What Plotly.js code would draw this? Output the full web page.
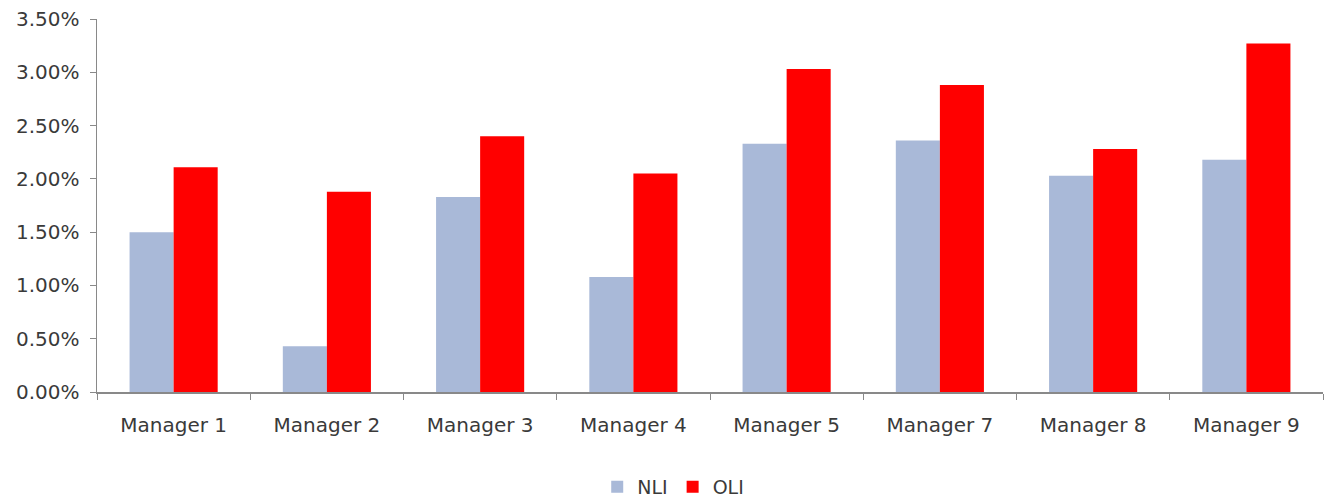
<!DOCTYPE html>
<html>
<head>
<meta charset="utf-8">
<script src="https://cdn.plot.ly/plotly-3.0.1.min.js"></script>
<style>html,body{margin:0;padding:0;background:#fff;}#chart{width:1331px;height:501px;}</style>
</head>
<body>
<div id="chart"></div>
<script>
const categories = ["Manager 1","Manager 2","Manager 3","Manager 4","Manager 5","Manager 7","Manager 8","Manager 9"];
const nliValues = [0.0150,0.0043,0.0183,0.0108,0.0233,0.0236,0.0203,0.0218];
const oliValues = [0.0211,0.0188,0.0240,0.0205,0.0303,0.0288,0.0228,0.0327];
const yTickVals = [0,0.005,0.01,0.015,0.02,0.025,0.03,0.035];

const fam = "DejaVu Sans, sans-serif";
const data = [
  {type:"bar", name:"NLI", x:categories, y:nliValues, marker:{color:"#A9B9D8"}},
  {type:"bar", name:"OLI", x:categories, y:oliValues, marker:{color:"#FF0000"}}
];
const layout = {
  width:1331, height:501,
  margin:{l:97, r:8, t:19, b:109, autoexpand:false},
  paper_bgcolor:"#fff", plot_bgcolor:"#fff",
  barmode:"group", bargap:0.425, bargroupgap:0,
  font:{family:fam, size:19, color:"#3a3a3a"},
  showlegend:true,
  legend:{orientation:"h", x:0.47, xanchor:"center", yref:"container", y:0.028, yanchor:"middle", font:{family:fam, size:19, color:"#3a3a3a"}, itemwidth:30, traceorder:"normal", tracegroupgap:0},
  xaxis:{type:"category", showline:true, linecolor:"#898989", linewidth:1.5, ticks:"outside", tickson:"boundaries", ticklen:6, tickcolor:"#898989", showgrid:false, ticklabelstandoff:14, tickfont:{family:fam, size:20, color:"#3a3a3a"}},
  yaxis:{range:[0,0.035], tickvals:yTickVals, tickformat:".2%", showline:true, linecolor:"#898989", linewidth:1.5, ticks:"outside", ticklen:6, tickcolor:"#898989", showgrid:false, zeroline:false, ticklabelstandoff:6, tickfont:{family:fam, size:20, color:"#3a3a3a"}}
};
Plotly.newPlot("chart", data, layout, {displayModeBar:false, staticPlot:true});
</script>
</body>
</html>
